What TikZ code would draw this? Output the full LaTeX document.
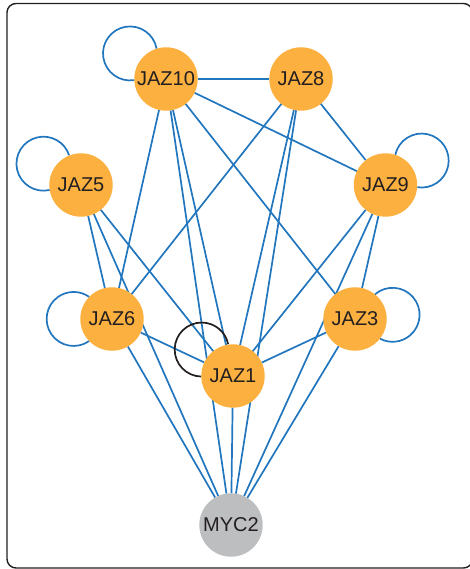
\documentclass[tikz,border=0pt]{standalone}
\usepackage{fontspec}
\setmainfont{Liberation Sans}
\usetikzlibrary{backgrounds}
\definecolor{jazorange}{RGB}{251,176,64}
\definecolor{mycgray}{RGB}{188,190,192}
\definecolor{edgeblue}{RGB}{33,118,189}
\definecolor{inkdark}{RGB}{35,31,32}
\tikzset{
  gene/.style={circle, minimum size=63.4pt, inner sep=0pt, outer sep=0pt,
    fill=jazorange, text=inkdark, font=\fontsize{20}{22}\selectfont},
  tf/.style={gene, fill=mycgray},
  link/.style={draw=edgeblue, line width=1.7pt},
  selflink/.style={draw=edgeblue, line width=1.7pt},
  selfblack/.style={draw=inkdark, line width=1.7pt},
  frame/.style={draw=inkdark, line width=1.4pt, rounded corners=9pt}
}
\begin{document}
\begin{tikzpicture}[x=1pt,y=1pt]
\useasboundingbox (0,0) rectangle (470,569);

% interaction partners
\node[gene] (JAZ10) at (166,490) {JAZ10};
\node[gene] (JAZ8)  at (301,490) {JAZ8};
\node[gene] (JAZ5)  at (81,384)  {JAZ5};
\node[gene] (JAZ9)  at (385.5,384) {JAZ9};
\node[gene] (JAZ6)  at (112,250) {JAZ6};
\node[gene] (JAZ3)  at (355,250) {JAZ3};
\node[gene] (JAZ1)  at (233,193) {JAZ1};
\node[tf]   (MYC2)  at (231,44)  {MYC2};

\begin{pgfonlayer}{background}
  \draw[frame] (7,1) rectangle (472.5,565.5);

  % pairwise interactions
  \draw[link] (JAZ10) -- (JAZ8);
  \draw[link] (JAZ10) -- (JAZ9);
  \draw[link] (JAZ10) -- (JAZ6);
  \draw[link] (JAZ10) -- (JAZ1);
  \draw[link] (JAZ10) -- (MYC2);
  \draw[link] (JAZ10) -- (JAZ3);
  \draw[link] (JAZ8) -- (JAZ6);
  \draw[link] (JAZ8) -- (JAZ1);
  \draw[link] (JAZ8) -- (MYC2);
  \draw[link] (JAZ8) -- (JAZ9);
  \draw[link] (JAZ5) -- (JAZ6);
  \draw[link] (JAZ5) -- (MYC2);
  \draw[link] (JAZ5) -- (JAZ1);
  \draw[link] (JAZ9) -- (JAZ1);
  \draw[link] (JAZ9) -- (MYC2);
  \draw[link] (JAZ9) -- (JAZ3);
  \draw[link] (JAZ6) -- (JAZ1);
  \draw[link] (JAZ6) -- (MYC2);
  \draw[link] (JAZ3) -- (JAZ1);
  \draw[link] (JAZ3) -- (MYC2);
  \draw[link] (JAZ1) -- (MYC2);

  % homodimers
  \draw[selflink] (JAZ10.182.1) arc[start angle=-80.8, end angle=-349.8, radius=27pt];
  \draw[selflink] (JAZ5.189.55) arc[start angle=-76.65, end angle=-341.85, radius=27pt];
  \draw[selflink] (JAZ9.72.3) arc[start angle=-192.2, end angle=-459.4, radius=27pt];
  \draw[selflink] (JAZ6.224.1) arc[start angle=-54.8, end angle=-305.2, radius=27pt];
  \draw[selflink] (JAZ3.51.2) arc[start angle=-229.2, end angle=-477.8, radius=27pt];
  \draw[selfblack] (JAZ1.181.8) arc[start angle=-90.8, end angle=-348.6, radius=27pt];
\end{pgfonlayer}
\end{tikzpicture}
\end{document}
